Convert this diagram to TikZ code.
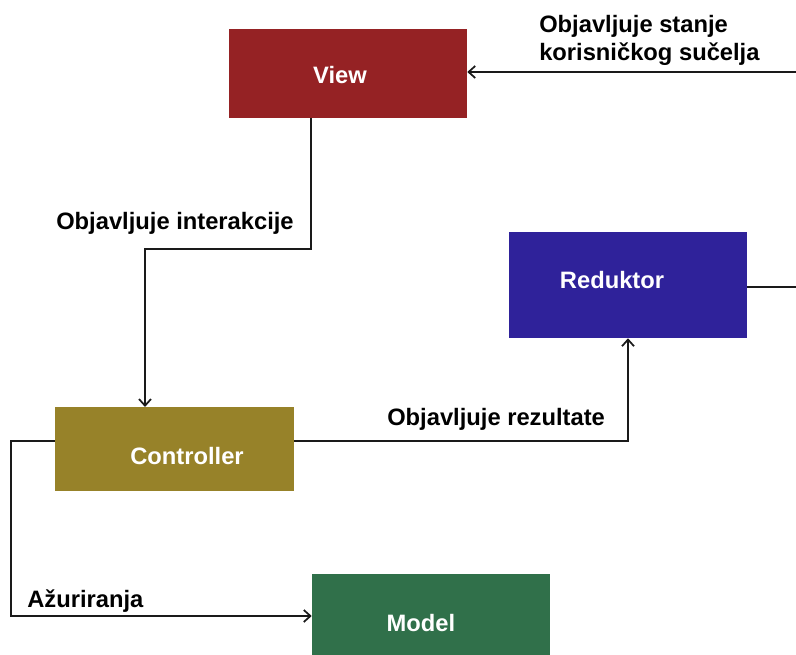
\documentclass[tikz,border=0pt]{standalone}
\usepackage{fontspec}
\setmainfont{Liberation Sans}
\usetikzlibrary{arrows.meta}
\definecolor{viewred}{HTML}{952224}
\definecolor{redblue}{HTML}{2F229A}
\definecolor{ctrlolive}{HTML}{978229}
\definecolor{modelgreen}{HTML}{30704A}
\definecolor{linecol}{HTML}{1A1A1A}
\tikzset{
  box/.style={rectangle, inner sep=0pt, draw=none},
  boxtext/.style={text=white, font=\fontsize{17.8}{21}\selectfont\bfseries, inner sep=0pt},
  lbl/.style={text=black, font=\fontsize{17.8}{21}\selectfont\bfseries, inner sep=0pt, align=left},
  conn/.style={draw=linecol, line width=1.5pt, -{Straight Barb[length=5pt,width=9pt,line width=1.3pt]}},
  plain/.style={draw=linecol, line width=1.5pt}
}
\begin{document}
\begin{tikzpicture}[x=0.75pt,y=-0.75pt]
\useasboundingbox (0,0) rectangle (796,655);
\node[box, fill=viewred, minimum width=178.5pt, minimum height=66.75pt] (view) at (348,73.5) {};
\node[box, fill=redblue, minimum width=178.5pt, minimum height=79.5pt] (red) at (628,285) {};
\node[box, fill=ctrlolive, minimum width=179.25pt, minimum height=63pt] (ctrl) at (174.5,449) {};
\node[box, fill=modelgreen, minimum width=178.5pt, minimum height=73.5pt] (model) at (431,623) {};
\node[boxtext] (tview) at (340,75) {View};
\node[boxtext] (tred) at (612,280) {Reduktor};
\node[boxtext] (tctrl) at (187,456) {Controller};
\node[boxtext] (tmodel) at (421,623) {Model};
% right edge coordinates
\coordinate (e1) at (796,72);
\coordinate (e2) at (796,287);
\draw[conn] (e1) -- (view.east |- e1);
\draw[plain] (red.east |- e2) -- (e2);
\draw[conn] (311,118) -- (311,249) -- (145,249) -- (145,407);
\draw[conn] (ctrl.east |- 0,441) -- (628,441) -- (red.south);
\draw[conn] (ctrl.west |- 0,441) -- (11,441) -- (11,616) -- (model.west |- 0,616);
\node[lbl, anchor=west] (l1) at (539,40) {Objavljuje stanje\\korisničkog sučelja};
\node[lbl, anchor=west] (l2) at (56,223) {Objavljuje interakcije};
\node[lbl, anchor=west] (l3) at (387,419) {Objavljuje rezultate};
\node[lbl, anchor=west] (l4) at (27,601) {Ažuriranja};
\end{tikzpicture}
\end{document}
